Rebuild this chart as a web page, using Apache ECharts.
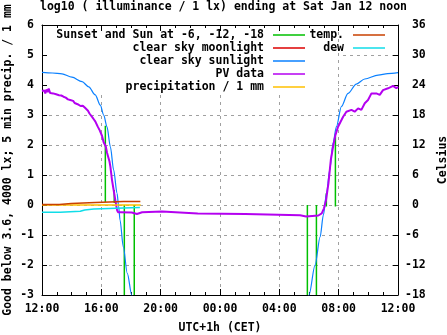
<!DOCTYPE html>
<html><head><meta charset="utf-8">
<script src="https://cdn.jsdelivr.net/npm/echarts@6/dist/echarts.min.js"></script>
<style>html,body{margin:0;padding:0;background:#fff}#c{width:447px;height:335px}</style>
</head><body><div id="c"></div>
<script>
// hours since Sat 12:00 (previous day noon) -> 0..24
var xTicks = [0, 4, 8, 12, 16, 20, 24];
var sunTime   = [4.27, 4.87, 5.55, 6.22, 17.89, 18.5, 19.17, 19.78];
var sunTop    = [2.64, 0.5, 0, 0, 0, 0, 0.39, 2.28];
var sunBottom = [0.1, 0.07, -3, -3, -3, -3, -0.05, -0.05];

var moonTime = [];
var moonValue = [];

var sunlightTime1  = [0, 0.7, 1.35, 2.02, 2.7, 3.15, 3.59, 3.93, 4.16, 4.38, 4.61, 4.83, 5.06, 5.17, 5.26, 5.48, 5.75, 6.05, 6.2];
var sunlightValue1 = [4.42, 4.40, 4.37, 4.26, 4.11, 3.94, 3.67, 3.33, 3.0, 2.61, 1.94, 1.17, 0.39, -0.06, -0.5, -1.39, -2.28, -3.0, -3.5];
var sunlightTime2  = [17.85, 18.0, 18.41, 18.75, 18.97, 19.18, 19.4, 19.62, 19.85, 20.18, 20.63, 21.19, 21.76, 22.66, 23.3, 24];
var sunlightValue2 = [-3.5, -3.0, -2.0, -1.06, -0.33, 0.39, 1.17, 2.06, 2.61, 3.28, 3.72, 4.03, 4.2, 4.33, 4.38, 4.41];

var pvTime = [0, 0.08, 0.15, 0.22, 0.3, 0.38, 0.45, 0.55, 0.65, 0.75, 0.85, 0.95, 1.05, 1.15, 1.3, 1.45, 1.6, 1.75, 1.9, 2.0, 2.1, 2.2, 2.3, 2.4, 2.5, 2.6, 2.75, 2.9, 3.0, 3.1, 3.2, 3.3, 3.4, 3.5, 3.6, 3.75, 3.9, 4.05, 4.15, 4.3, 4.38, 4.55, 4.61, 4.72, 4.83, 4.94, 5.06, 5.12, 5.3, 6.05, 6.1, 6.4, 6.45, 6.75, 6.8, 8.1, 8.15, 10.5, 10.55, 13.7, 13.75, 17.4, 17.45, 17.8, 17.85, 18.63, 18.86, 19.01, 19.15, 19.31, 19.47, 19.62, 19.78, 19.96, 20.3, 20.52, 20.86, 21.08, 21.31, 21.53, 21.76, 21.98, 22.21, 22.54, 22.77, 22.99, 23.33, 23.67, 23.89, 24];
var pvValue = [3.80, 3.74, 3.82, 3.72, 3.85, 3.76, 3.88, 3.73, 3.78, 3.72, 3.74, 3.69, 3.72, 3.66, 3.65, 3.61, 3.58, 3.52, 3.50, 3.44, 3.47, 3.40, 3.44, 3.36, 3.36, 3.30, 3.31, 3.24, 3.18, 3.14, 3.05, 3.02, 2.92, 2.85, 2.78, 2.62, 2.48, 2.30, 2.10, 1.95, 1.75, 1.45, 1.28, 0.83, 0.5, 0.17, -0.17, -0.24, -0.24, -0.25, -0.3, -0.3, -0.25, -0.24, -0.22, -0.22, -0.27, -0.28, -0.3, -0.3, -0.34, -0.34, -0.38, -0.38, -0.35, -0.35, -0.28, -0.11, 0.17, 0.72, 1.5, 1.94, 2.33, 2.61, 2.94, 3.11, 3.17, 3.11, 3.22, 3.17, 3.39, 3.5, 3.72, 3.72, 3.67, 3.83, 3.89, 3.97, 3.89, 3.94];

var precipTime = [0, 6.65];
var precipValue = [0, 0];

// Celsius (right axis)
var tempTime  = [0, 1.17, 1.97, 3.6, 5.5, 5.62, 6.63];
var tempValue = [0.1, 0.3, 0.5, 0.7, 0.55, 0.7, 0.7];
var dewTime  = [0, 1.23, 2.58, 2.88, 3.49, 5.5, 6.6];
var dewValue = [-1.46, -1.26, -1.0, -0.8, -0.6, -0.5, -0.5];

var leftTicks = [-3, -2, -1, 0, 1, 2, 3, 4, 5, 6];
var rightTicks = [-18, -12, -6, 0, 6, 12, 18, 24, 30, 36];

function zip(t, v) { return t.map(function (x, i) { return [x, v[i]]; }); }
var sunData = [];
sunTime.forEach(function (t, i) {
  if (i > 0) sunData.push([t, '-']);
  sunData.push([t, sunTop[i]]);
  sunData.push([t, sunBottom[i]]);
});
var sunlightData = zip(sunlightTime1, sunlightValue1).concat([[12, '-']]).concat(zip(sunlightTime2, sunlightValue2));

var FONT = 'DejaVu Sans Mono';
var txt = { fontFamily: FONT, fontWeight: 'bold', fontSize: 11.5, color: '#000' };
var grid = { type: [3, 4], color: '#a0a0a0', width: 1 };

var names = ['Sunset and Sun at -6, -12, -18', 'clear sky moonlight', 'clear sky sunlight', 'PV data', 'precipitation / 1 mm', 'temp.', 'dew'];
var colors = ['#00c000', '#dd0000', '#0a80ff', '#b400f0', '#ffc000', '#c84000', '#10dde8'];
var rowY = [35, 48, 61, 74, 87, 35, 48];
var legends = names.map(function (n, i) {
  return {
    data: [n], orient: 'horizontal', align: 'right', padding: 0,
    right: i < 5 ? 142 : 62, top: rowY[i] - 6,
    icon: 'rect', itemWidth: 32, itemHeight: 1.5, selectedMode: false, z: 1,
    textStyle: Object.assign({}, txt, { lineHeight: 12, padding: [0, 4, 0, 0] })
  };
});

function line(name, idx, data, extra) {
  return Object.assign({
    name: name, type: 'line', data: data, symbol: 'none', showSymbol: false,
    yAxisIndex: 0, xAxisIndex: 0, animation: false, z: 2,
    lineStyle: { color: colors[idx], width: 1.5 }, itemStyle: { color: colors[idx] },
    connectNulls: false
  }, extra || {});
}

var chart = echarts.init(document.getElementById('c'), null, { renderer: 'canvas' });
chart.setOption({
  animation: false,
  backgroundColor: '#fff',
  title: {
    text: 'log10 ( illuminance / 1 lx) ending at Sat Jan 12 noon',
    left: 'center', top: 1, padding: 0,
    textStyle: txt
  },
  legend: legends,
  grid: { left: 42, right: 49, top: 25, bottom: 40, outerBoundsMode: 'none', containLabel: false },
  graphic: [{ type: 'rect', silent: true, z: 1, shape: { x: 48, y: 31, width: 290, height: 61 }, style: { fill: '#fff' } }],
  xAxis: [{
    type: 'value', min: 0, max: 24, interval: 4, position: 'bottom',
    name: 'UTC+1h (CET)', nameLocation: 'middle', nameGap: 27, nameTextStyle: txt,
    axisLine: { show: true, onZero: false, lineStyle: { color: '#000', width: 1 } },
    axisTick: { show: true, inside: true, length: 6, lineStyle: { color: '#000' } },
    minorTick: { show: true, splitNumber: 4, length: 3, lineStyle: { color: '#000' } },
    axisLabel: { margin: 8, fontFamily: FONT, fontWeight: 'bold', fontSize: 11.5, color: '#000',
      formatter: function (v) { var h = (12 + v) % 24; return (h < 10 ? '0' : '') + h + ':00'; } },
    splitLine: { show: true, showMinLine: false, showMaxLine: false, lineStyle: grid }
  }, {
    type: 'value', min: 0, max: 24, interval: 4, position: 'top',
    axisLine: { show: true, onZero: false, lineStyle: { color: '#000', width: 1 } },
    axisTick: { show: true, inside: true, length: 6, lineStyle: { color: '#000' } },
    minorTick: { show: true, splitNumber: 4, length: 3, lineStyle: { color: '#000' } },
    axisLabel: { show: false }, splitLine: { show: false }
  }],
  yAxis: [{
    type: 'value', min: -3, max: 6, interval: 1, position: 'left',
    name: 'Good below 3.6, 4000 lx; 5 min precip. / 1 mm', nameLocation: 'middle', nameGap: 28, nameMoveOverlap: false, nameTextStyle: txt,
    axisLine: { show: true, onZero: false, lineStyle: { color: '#000', width: 1 } },
    axisTick: { show: true, inside: true, length: 5, lineStyle: { color: '#000' } },
    axisLabel: { margin: 8, fontFamily: FONT, fontWeight: 'bold', fontSize: 11.5, color: '#000' },
    splitLine: { show: true, showMinLine: false, showMaxLine: false, lineStyle: grid }
  }, {
    type: 'value', min: -18, max: 36, interval: 6, position: 'right',
    name: 'Celsius', nameLocation: 'middle', nameRotate: 90, nameGap: 35, nameTextStyle: txt,
    axisLine: { show: true, onZero: false, lineStyle: { color: '#000', width: 1 } },
    axisTick: { show: true, inside: true, length: 5, lineStyle: { color: '#000' } },
    axisLabel: { margin: 7, align: 'left', fontFamily: FONT, fontWeight: 'bold', fontSize: 11.5, color: '#000',
      formatter: function (v) { return v >= 0 ? '\u00a0' + v : '' + v; } },
    splitLine: { show: false }
  }],
  series: [
    line(names[0], 0, sunData, { lineStyle: { color: colors[0], width: 1.5 } }),
    line(names[1], 1, zip(moonTime, moonValue)),
    line(names[2], 2, sunlightData, { lineStyle: { color: colors[2], width: 1.2 }, smooth: 0.3, smoothMonotone: 'x' }),
    line(names[3], 3, zip(pvTime, pvValue), { lineStyle: { color: colors[3], width: 2 } }),
    line(names[4], 4, zip(precipTime, precipValue)),
    line(names[5], 5, zip(tempTime, tempValue), { yAxisIndex: 1, step: 'end' }),
    line(names[6], 6, zip(dewTime, dewValue), { yAxisIndex: 1, step: 'end' })
  ]
});
</script></body></html>
